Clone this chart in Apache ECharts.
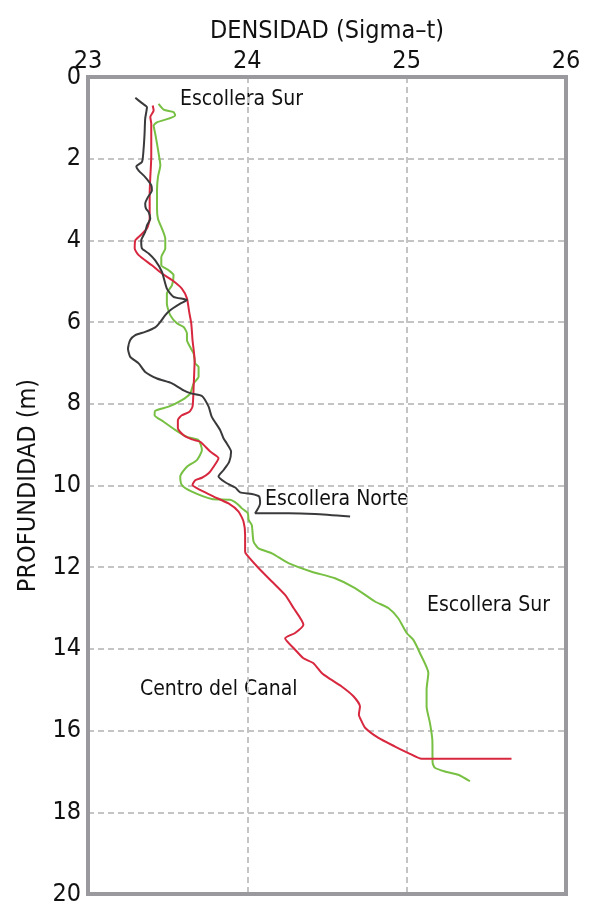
<!DOCTYPE html>
<html>
<head>
<meta charset="utf-8">
<script src="https://cdn.jsdelivr.net/npm/echarts@6/dist/echarts.min.js"></script>
<style>
  html, body { margin: 0; padding: 0; background: #fff; }
  #chart { width: 591px; height: 907px; }
</style>
</head>
<body>
<div id="chart"></div>
<script>
  // ticks
  var densTicks = [23, 24, 25, 26];
  var depthTicks = [0, 2, 4, 6, 8, 10, 12, 14, 16, 18, 20];

  // Escollera Norte (negro)
  var norteDens = [23.297, 23.339, 23.370, 23.359, 23.355, 23.349, 23.339, 23.303, 23.318, 23.359, 23.397, 23.401, 23.376, 23.359, 23.364, 23.381, 23.391, 23.370, 23.359, 23.334, 23.339, 23.381, 23.422, 23.464, 23.495, 23.537, 23.621, 23.579, 23.516, 23.485, 23.453, 23.422, 23.359, 23.297, 23.265, 23.251, 23.265, 23.318, 23.359, 23.433, 23.527, 23.600, 23.652, 23.715, 23.757, 23.777, 23.829, 23.851, 23.871, 23.898, 23.886, 23.851, 23.819, 23.861, 23.924, 23.955, 24.028, 24.074, 24.080, 24.049, 24.258, 24.425, 24.645];
  var norteDepth = [0.51, 0.64, 0.74, 1.02, 1.39, 1.76, 2.08, 2.19, 2.29, 2.45, 2.65, 2.78, 2.94, 3.10, 3.22, 3.31, 3.47, 3.63, 3.79, 4.00, 4.20, 4.32, 4.49, 4.77, 5.18, 5.38, 5.46, 5.55, 5.71, 5.83, 6.00, 6.13, 6.24, 6.32, 6.44, 6.65, 6.85, 7.01, 7.22, 7.38, 7.50, 7.67, 7.75, 7.81, 8.07, 8.32, 8.64, 8.85, 8.97, 9.17, 9.42, 9.62, 9.78, 9.92, 10.05, 10.17, 10.21, 10.27, 10.44, 10.68, 10.68, 10.70, 10.76];

  // Centro del Canal (rojo)
  var canalDens = [23.406, 23.412, 23.391, 23.397, 23.397, 23.397, 23.391, 23.387, 23.387, 23.387, 23.370, 23.328, 23.297, 23.293, 23.318, 23.401, 23.464, 23.527, 23.589, 23.621, 23.635, 23.648, 23.656, 23.669, 23.663, 23.656, 23.635, 23.589, 23.564, 23.564, 23.600, 23.652, 23.704, 23.767, 23.819, 23.788, 23.757, 23.715, 23.673, 23.656, 23.704, 23.788, 23.882, 23.945, 23.976, 23.986, 23.986, 23.997, 24.070, 24.154, 24.237, 24.290, 24.352, 24.300, 24.237, 24.300, 24.352, 24.415, 24.467, 24.509, 24.592, 24.666, 24.707, 24.700, 24.712, 24.739, 24.823, 24.927, 25.011, 25.094, 25.658];
  var canalDepth = [0.70, 0.82, 0.98, 1.14, 1.55, 1.96, 2.45, 2.86, 3.22, 3.47, 3.71, 3.88, 4.00, 4.20, 4.36, 4.61, 4.81, 4.97, 5.18, 5.42, 5.75, 6.03, 6.44, 6.93, 7.58, 8.07, 8.20, 8.28, 8.40, 8.60, 8.77, 8.87, 8.93, 9.17, 9.33, 9.54, 9.70, 9.81, 9.87, 9.99, 10.11, 10.27, 10.44, 10.64, 10.88, 11.21, 11.62, 11.70, 12.02, 12.35, 12.68, 13.00, 13.41, 13.61, 13.74, 14.02, 14.23, 14.35, 14.59, 14.71, 14.92, 15.16, 15.41, 15.61, 15.73, 15.93, 16.18, 16.39, 16.55, 16.69, 16.69];

  // Escollera Sur (verde)
  var surDens = [23.443, 23.475, 23.537, 23.547, 23.506, 23.433, 23.412, 23.422, 23.433, 23.447, 23.454, 23.439, 23.433, 23.433, 23.439, 23.464, 23.485, 23.485, 23.460, 23.460, 23.506, 23.537, 23.527, 23.495, 23.495, 23.516, 23.558, 23.600, 23.621, 23.621, 23.641, 23.663, 23.673, 23.694, 23.694, 23.663, 23.641, 23.589, 23.506, 23.422, 23.418, 23.475, 23.547, 23.621, 23.694, 23.715, 23.683, 23.621, 23.579, 23.589, 23.652, 23.777, 23.892, 23.934, 23.966, 24.003, 24.008, 24.028, 24.039, 24.070, 24.154, 24.258, 24.404, 24.550, 24.676, 24.801, 24.885, 24.947, 25.000, 25.042, 25.083, 25.136, 25.125, 25.125, 25.146, 25.161, 25.163, 25.177, 25.240, 25.324, 25.397];
  var surDepth = [0.66, 0.80, 0.86, 0.94, 1.02, 1.11, 1.19, 1.39, 1.63, 1.96, 2.16, 2.45, 2.78, 3.22, 3.47, 3.71, 3.96, 4.20, 4.41, 4.61, 4.73, 4.85, 5.10, 5.30, 5.55, 5.83, 6.03, 6.12, 6.28, 6.44, 6.61, 6.77, 7.01, 7.10, 7.34, 7.50, 7.75, 7.91, 8.07, 8.17, 8.28, 8.44, 8.64, 8.81, 8.89, 9.13, 9.38, 9.54, 9.78, 9.99, 10.15, 10.33, 10.35, 10.44, 10.56, 10.68, 10.84, 10.97, 11.37, 11.54, 11.66, 11.90, 12.11, 12.27, 12.51, 12.84, 13.00, 13.25, 13.61, 13.78, 14.10, 14.59, 15.00, 15.41, 15.81, 16.22, 16.79, 16.91, 17.00, 17.08, 17.24];

  var FONT = "'Liberation Sans Narrow', 'DejaVu Sans Condensed', sans-serif";

  // plot box, in px
  var G = { left: 88, right: 25, top: 77, bottom: 13 };

  function pairs(dens, depth) {
    return dens.map(function (d, i) { return [d, depth[i]]; });
  }

  function profile(name, dens, depth, color) {
    return {
      name: name,
      type: 'line',
      data: pairs(dens, depth),
      showSymbol: false,
      symbol: 'none',
      smooth: 0.2,
      lineStyle: { color: color, width: 2 },
      z: 3
    };
  }

  var chart = echarts.init(document.getElementById('chart'));
  chart.setOption({
    backgroundColor: '#fff',
    animation: false,
    textStyle: { fontFamily: FONT },
    grid: { left: G.left, right: G.right, top: G.top, bottom: G.bottom },
    xAxis: {
      type: 'value',
      position: 'top',
      min: densTicks[0],
      max: densTicks[densTicks.length - 1],
      interval: 1,
      name: 'DENSIDAD (Sigma–t)',
      nameLocation: 'middle',
      nameGap: 33,
      nameTextStyle: { fontSize: 25, color: '#111', fontFamily: FONT },
      axisLine: { show: false },
      axisTick: { show: false },
      axisLabel: { fontSize: 25, color: '#111', margin: 3, fontFamily: FONT },
      splitLine: { show: true, lineStyle: { color: '#c4c4c4', width: 2, type: [6, 4] } }
    },
    yAxis: {
      type: 'value',
      inverse: true,
      min: depthTicks[0],
      max: depthTicks[depthTicks.length - 1],
      interval: 2,
      name: 'PROFUNDIDAD (m)',
      nameLocation: 'middle',
      nameGap: 40,
      nameRotate: 90,
      nameTextStyle: { fontSize: 25, color: '#111', fontFamily: FONT },
      axisLine: { show: false },
      axisTick: { show: false },
      axisLabel: { fontSize: 25, color: '#111', margin: 7, fontFamily: FONT },
      splitLine: { show: true, lineStyle: { color: '#c4c4c4', width: 2, type: [6, 4] } }
    },
    graphic: [
      {
        type: 'rect', z: 10, silent: true,
        shape: { x: G.left, y: G.top, width: 591 - G.left - G.right, height: 907 - G.top - G.bottom },
        style: { fill: 'none', stroke: '#9a9a9e', lineWidth: 4 }
      },
      { type: 'text', left: 180, top: 89, style: { text: 'Escollera Sur', fontSize: 21, fill: '#111', fontFamily: FONT } },
      { type: 'text', left: 265, top: 489, style: { text: 'Escollera Norte', fontSize: 21, fill: '#111', fontFamily: FONT } },
      { type: 'text', left: 427, top: 595, style: { text: 'Escollera Sur', fontSize: 21, fill: '#111', fontFamily: FONT } },
      { type: 'text', left: 140, top: 679, style: { text: 'Centro del Canal', fontSize: 21, fill: '#111', fontFamily: FONT } }
    ],
    series: [
      profile('Escollera Sur', surDens, surDepth, '#77c043'),
      profile('Centro del Canal', canalDens, canalDepth, '#d7283f'),
      profile('Escollera Norte', norteDens, norteDepth, '#3a3a3c')
    ]
  });
</script>
</body>
</html>
